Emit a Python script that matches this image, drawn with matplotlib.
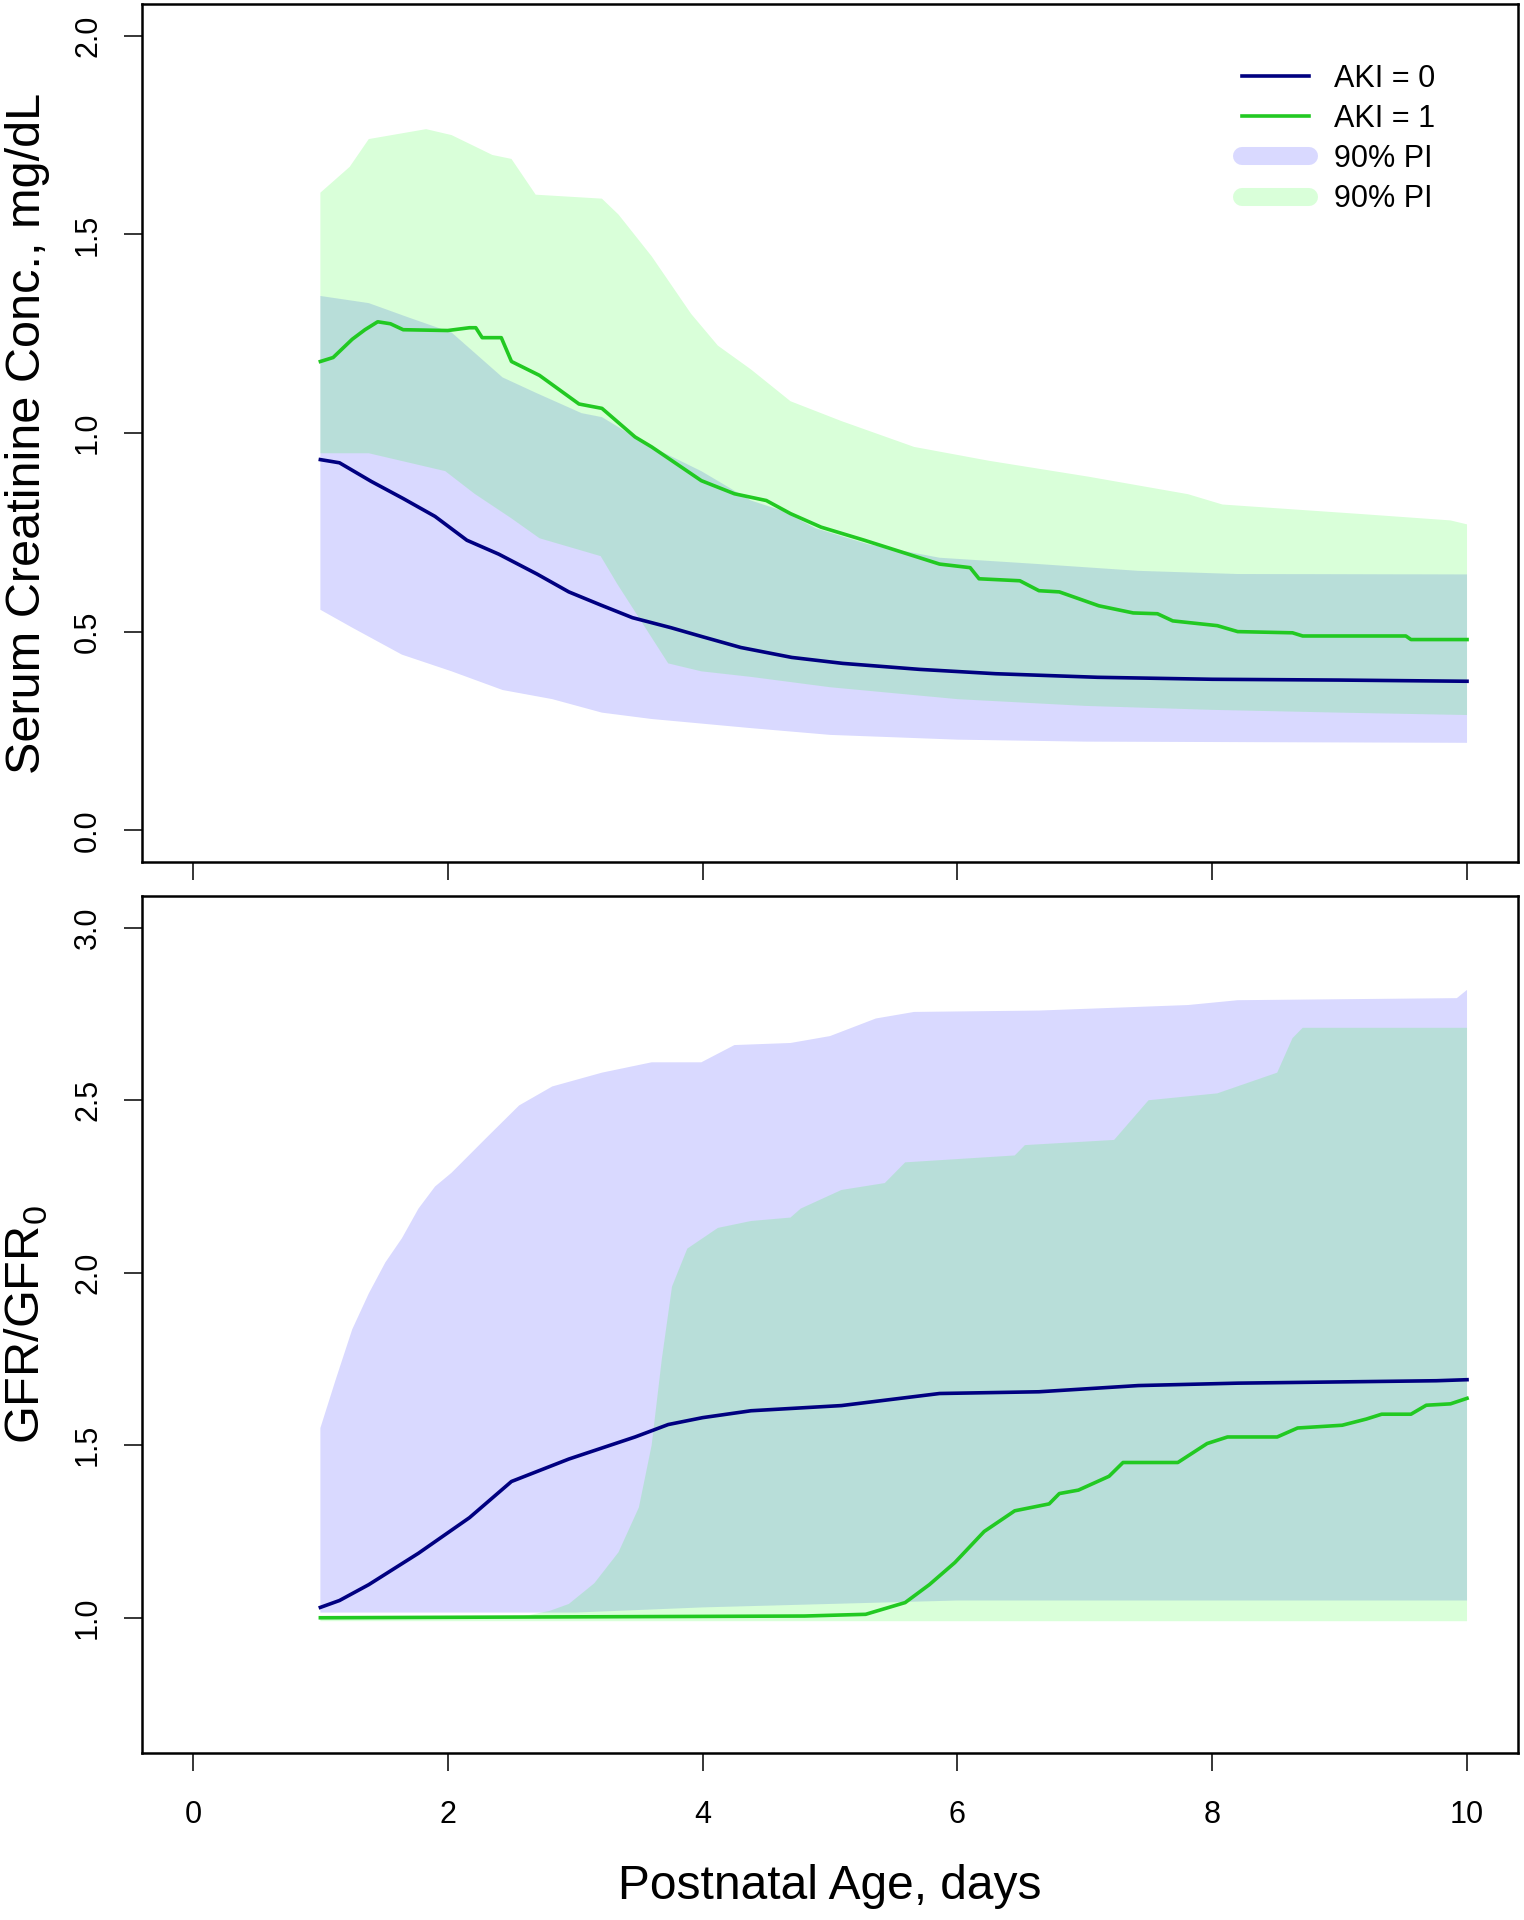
import numpy as np
import matplotlib
matplotlib.use("Agg")
import matplotlib.pyplot as plt
from matplotlib.lines import Line2D

plt.rcParams['font.family'] = ['Liberation Sans', 'DejaVu Sans']

# ---------------- data: top panel (serum creatinine, mg/dL) ----------------
scr0_x = [1.0, 1.15, 1.4, 1.65, 1.9, 2.15, 2.4, 2.7, 2.95, 3.2, 3.45, 3.75, 4.0,
          4.3, 4.7, 5.1, 5.7, 6.3, 7.1, 8.0, 9.0, 10.0]
scr0_y = [0.933, 0.925, 0.878, 0.835, 0.79, 0.73, 0.695, 0.645, 0.60, 0.567, 0.535,
          0.51, 0.487, 0.46, 0.435, 0.42, 0.405, 0.394, 0.385, 0.38, 0.378, 0.375]

scr1_x = [1.0, 1.1, 1.25, 1.35, 1.45, 1.55, 1.65, 2.0, 2.17, 2.22, 2.27, 2.42, 2.5,
          2.72, 3.03, 3.21, 3.47, 3.6, 3.99, 4.25, 4.5, 4.69, 4.93, 5.27, 5.86, 6.1,
          6.17, 6.49, 6.64, 6.8, 7.11, 7.38, 7.57, 7.69, 8.04, 8.2, 8.63, 8.71, 9.52,
          9.56, 10.0]
scr1_y = [1.18, 1.19, 1.236, 1.26, 1.28, 1.275, 1.26, 1.258, 1.265, 1.265, 1.24, 1.24,
          1.18, 1.145, 1.073, 1.062, 0.99, 0.965, 0.88, 0.847, 0.83, 0.797, 0.763, 0.73,
          0.67, 0.661, 0.633, 0.628, 0.603, 0.60, 0.565, 0.547, 0.545, 0.527, 0.515,
          0.50, 0.497, 0.489, 0.489, 0.48, 0.48]

scr0_hi_x = [1.0, 1.38, 1.7, 2.03, 2.43, 2.7, 3.05, 3.21, 3.57, 3.99, 4.38, 4.62, 4.89,
             5.3, 5.86, 6.64, 7.42, 8.2, 10.0]
scr0_hi_y = [1.345, 1.327, 1.29, 1.253, 1.14, 1.10, 1.05, 1.04, 0.97, 0.904, 0.83, 0.805,
             0.76, 0.72, 0.686, 0.67, 0.653, 0.645, 0.644]
scr0_lo_x = [1.0, 1.25, 1.64, 2.03, 2.43, 2.82, 3.21, 3.6, 4.38, 5.0, 6.0, 7.0, 8.0, 10.0]
scr0_lo_y = [0.555, 0.51, 0.442, 0.40, 0.353, 0.33, 0.296, 0.28, 0.257, 0.24, 0.228,
             0.223, 0.222, 0.22]

scr1_hi_x = [1.0, 1.23, 1.38, 1.83, 2.03, 2.35, 2.5, 2.69, 3.21, 3.34, 3.6, 3.91, 4.12,
             4.38, 4.69, 5.09, 5.66, 6.25, 7.03, 7.81, 8.08, 9.17, 9.87, 10.0]
scr1_hi_y = [1.605, 1.67, 1.74, 1.765, 1.75, 1.70, 1.69, 1.60, 1.59, 1.55, 1.445, 1.30,
             1.22, 1.16, 1.08, 1.03, 0.965, 0.93, 0.89, 0.846, 0.82, 0.796, 0.78, 0.77]
scr1_lo_x = [1.0, 1.38, 1.98, 2.21, 2.5, 2.72, 3.2, 3.33, 3.47, 3.57, 3.73, 3.99, 4.38,
             5.0, 6.0, 7.0, 8.0, 9.0, 10.0]
scr1_lo_y = [0.949, 0.949, 0.904, 0.847, 0.785, 0.735, 0.69, 0.62, 0.55, 0.50, 0.42,
             0.40, 0.386, 0.36, 0.33, 0.313, 0.303, 0.296, 0.29]

# ---------------- data: bottom panel (GFR / GFR0) ----------------
gfr0_x = [1.0, 1.15, 1.38, 1.77, 2.17, 2.5, 2.95, 3.47, 3.73, 4.0, 4.38, 5.09, 5.86,
          6.64, 7.42, 8.2, 9.76, 10.0]
gfr0_y = [1.03, 1.05, 1.096, 1.187, 1.29, 1.395, 1.46, 1.524, 1.56, 1.58, 1.60, 1.615,
          1.65, 1.655, 1.673, 1.68, 1.687, 1.69]

gfr1_x = [1.0, 4.8, 5.28, 5.59, 5.78, 5.98, 6.21, 6.45, 6.72, 6.8, 6.95, 7.19, 7.3,
          7.73, 7.96, 8.12, 8.51, 8.67, 9.02, 9.21, 9.33, 9.56, 9.68, 9.87, 10.0]
gfr1_y = [1.0, 1.005, 1.01, 1.044, 1.096, 1.16, 1.25, 1.31, 1.33, 1.36, 1.37, 1.41,
          1.45, 1.45, 1.505, 1.524, 1.524, 1.55, 1.558, 1.576, 1.59, 1.59, 1.616, 1.62,
          1.636]

gfr0_hi_x = [1.0, 1.12, 1.25, 1.38, 1.51, 1.64, 1.77, 1.9, 2.03, 2.3, 2.56, 2.82, 3.21,
             3.6, 3.99, 4.25, 4.69, 5.0, 5.36, 5.66, 6.64, 7.81, 8.2, 9.92, 10.0]
gfr0_hi_y = [1.55, 1.69, 1.836, 1.94, 2.03, 2.10, 2.186, 2.25, 2.29, 2.39, 2.485, 2.54,
             2.58, 2.61, 2.61, 2.66, 2.666, 2.686, 2.737, 2.756, 2.76, 2.776, 2.79,
             2.796, 2.82]
gfr0_lo_x = [1.0, 3.0, 4.0, 5.0, 6.0, 10.0]
gfr0_lo_y = [1.015, 1.015, 1.03, 1.04, 1.05, 1.05]

gfr1_hi_x = [1.0, 2.6, 2.8, 2.95, 3.15, 3.34, 3.5, 3.6, 3.68, 3.76, 3.88, 4.12, 4.38,
             4.69, 4.77, 5.09, 5.43, 5.59, 6.45, 6.53, 7.23, 7.5, 8.04, 8.51, 8.63, 8.71,
             10.0]
gfr1_hi_y = [1.005, 1.005, 1.02, 1.04, 1.10, 1.19, 1.32, 1.50, 1.75, 1.96, 2.07, 2.13,
             2.15, 2.16, 2.186, 2.24, 2.26, 2.32, 2.34, 2.37, 2.385, 2.50, 2.52, 2.58,
             2.68, 2.71, 2.71]
gfr1_lo_x = [1.0, 10.0]
gfr1_lo_y = [0.99, 0.99]

legend_labels = ['AKI = 0', 'AKI = 1', '90% PI', '90% PI']
top_yticks = [0.0, 0.5, 1.0, 1.5, 2.0]
bot_yticks = [1.0, 1.5, 2.0, 2.5, 3.0]
xticks = [0, 2, 4, 6, 8, 10]

# ---------------- styling ----------------
NAVY = '#000080'
GREEN = '#22c922'
BLUE_PI = (0.0, 0.0, 1.0, 0.15)
GREEN_PI = (0.0, 1.0, 0.0, 0.15)
LW = 2.6

W, H = 1524, 1920
fig = plt.figure(figsize=(W / 100, H / 100), dpi=100)


def ax_rect(left, top, right, bottom):
    return [left / W, 1 - bottom / H, (right - left) / W, (bottom - top) / H]


ax1 = fig.add_axes(ax_rect(142, 4, 1518, 862))
ax2 = fig.add_axes(ax_rect(142, 896, 1518, 1753))


def band(ax, xu, yu, xl, yl, color):
    xs = np.concatenate([np.asarray(xu), np.asarray(xl)[::-1]])
    ys = np.concatenate([np.asarray(yu), np.asarray(yl)[::-1]])
    ax.fill(xs, ys, color=color, lw=0)


band(ax1, scr0_hi_x, scr0_hi_y, scr0_lo_x, scr0_lo_y, BLUE_PI)
band(ax1, scr1_hi_x, scr1_hi_y, scr1_lo_x, scr1_lo_y, GREEN_PI)
ax1.plot(scr0_x, scr0_y, color=NAVY, lw=LW)
ax1.plot(scr1_x, scr1_y, color=GREEN, lw=LW)

band(ax2, gfr0_hi_x, gfr0_hi_y, gfr0_lo_x, gfr0_lo_y, BLUE_PI)
band(ax2, gfr1_hi_x, gfr1_hi_y, gfr1_lo_x, gfr1_lo_y, GREEN_PI)
ax2.plot(gfr0_x, gfr0_y, color=NAVY, lw=LW)
ax2.plot(gfr1_x, gfr1_y, color=GREEN, lw=LW)

for ax in (ax1, ax2):
    ax.set_xlim(-0.4, 10.4)
    ax.set_xticks(xticks)
    for s in ax.spines.values():
        s.set_linewidth(1.8)
        s.set_color('black')
    ax.tick_params(axis='both', direction='out', length=13, width=1.1,
                   labelsize=22, colors='black')
    ax.tick_params(axis='x', pad=21)
    ax.tick_params(axis='y', pad=15, labelrotation=90)

ax1.set_ylim(-0.08, 2.08)
ax1.set_yticks(top_yticks)
ax1.set_yticklabels([f'{v:.1f}' for v in top_yticks])
ax1.tick_params(axis='x', labelbottom=False)

ax2.set_ylim(0.608, 3.092)
ax2.set_yticks(bot_yticks)
ax2.set_yticklabels([f'{v:.1f}' for v in bot_yticks])
ax2.set_xticklabels([str(v) for v in xticks])

for ax in (ax1, ax2):
    for lab in ax.get_yticklabels():
        lab.set_va('center')

ax1.set_ylabel('Serum Creatinine Conc., mg/dL', fontsize=35)
ax1.yaxis.set_label_coords((50 - 142) / 1376, 0.5)
ax2.set_ylabel(r'GFR/GFR$_\mathregular{0}$', fontsize=35)
ax2.yaxis.set_label_coords((50 - 142) / 1376, 0.5)
ax2.set_xlabel('Postnatal Age, days', fontsize=34.5)
ax2.xaxis.set_label_coords(0.5, (1753 - 1864) / 857)

handles = [Line2D([], [], color=NAVY, lw=LW),
           Line2D([], [], color=GREEN, lw=LW),
           Line2D([], [], color=BLUE_PI, lw=13, solid_capstyle='round'),
           Line2D([], [], color=GREEN_PI, lw=13, solid_capstyle='round')]
ax1.legend(handles, legend_labels, loc='upper left',
           bbox_to_anchor=(1242 / W, 1 - 64 / H), bbox_transform=fig.transFigure,
           frameon=False, fontsize=22, handlelength=2.2, handletextpad=0.8,
           labelspacing=0.33, borderpad=0, borderaxespad=0)

fig.savefig('out.png', dpi=100)
